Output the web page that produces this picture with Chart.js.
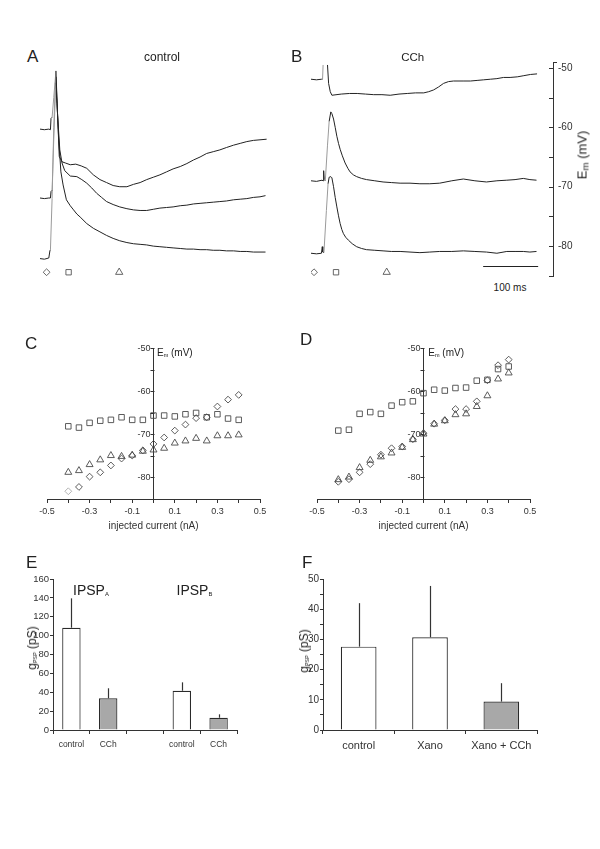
<!DOCTYPE html>
<html><head><meta charset="utf-8">
<script src="https://cdn.jsdelivr.net/npm/chart.js@4/dist/chart.umd.min.js"></script>
<style>
body{margin:0;background:#fff;width:600px;height:849px;position:relative;overflow:hidden;font-family:'Liberation Sans',Arial,sans-serif;color:#222}
canvas{position:absolute}
.t{position:absolute;white-space:nowrap;line-height:1}
.c{transform:translateX(-50%)}
.r{transform:translate(-50%,-50%) rotate(-90deg)}
.sub{font-size:0.55em;position:relative;top:0.2em}
</style></head><body>
<canvas id="cA" style="left:40px;top:62px" width="227" height="215"></canvas>
<canvas id="cB" style="left:311px;top:62px" width="289" height="215"></canvas>
<canvas id="cC" style="left:32px;top:338px" width="243" height="194"></canvas>
<canvas id="cD" style="left:302px;top:338px" width="243" height="194"></canvas>
<canvas id="cE" style="left:20px;top:571px" width="222" height="184"></canvas>
<canvas id="cF" style="left:290px;top:571px" width="257" height="184"></canvas>

<div class="t" style="left:27px;top:47.5px;font-size:17px">A</div>
<div class="t c" style="left:162px;top:50.8px;font-size:12px">control</div>
<div class="t" style="left:291px;top:47.5px;font-size:17px">B</div>
<div class="t c" style="left:412.7px;top:51.6px;font-size:11.5px">CCh</div>
<div class="t r" style="left:582px;top:155px;font-size:13px">E<span class="sub" style="font-size:0.75em">m</span> (mV)</div>
<div class="t c" style="left:510px;top:282.5px;font-size:10px">100 ms</div>

<div class="t" style="left:25px;top:334.5px;font-size:17px">C</div>
<div class="t" style="left:157px;top:348.2px;font-size:10px">E<span class="sub">m</span> (mV)</div>
<div class="t" style="left:300px;top:330.5px;font-size:17px">D</div>
<div class="t" style="left:428.3px;top:348.2px;font-size:10px">E<span class="sub">m</span> (mV)</div>

<div class="t" style="left:26px;top:553.5px;font-size:17px">E</div>
<div class="t" style="left:73px;top:583px;font-size:14px">IPSP<span class="sub" style="font-size:0.42em">A</span></div>
<div class="t" style="left:176.5px;top:583px;font-size:14px">IPSP<span class="sub" style="font-size:0.42em">B</span></div>
<div class="t r" style="left:32px;top:648px;font-size:12px">g<span class="sub" style="font-size:0.45em">PSP</span> (pS)</div>
<div class="t" style="left:302px;top:553.5px;font-size:17px">F</div>
<div class="t r" style="left:304px;top:651px;font-size:12px">g<span class="sub" style="font-size:0.45em">PSP</span> (pS)</div>

<script>
// ---------- Panel A (control) traces: time (ms) / membrane potential (mV)
const tA1 = [0, 8, 16, 19, 20, 22, 25, 29, 32, 35, 40, 46, 55, 65, 75, 85, 97, 109, 121, 133, 145, 158, 170, 182, 194, 206, 218, 230, 242, 255, 267, 279, 291, 303, 315, 327, 339, 352, 364, 376, 388, 400, 412];
const vA1 = [-60.3, -60.4, -60.3, -60.4, -58.5, -58.3, -55, -50.5, -58, -64.9, -65.8, -66.0, -66.3, -66.2, -66.5, -66.9, -68.0, -68.8, -69.3, -69.8, -70.0, -70.0, -69.6, -69.3, -68.8, -68.4, -68.0, -67.5, -67.0, -66.6, -66.1, -65.5, -65.0, -64.4, -64.1, -63.8, -63.4, -63.0, -62.7, -62.4, -62.2, -62.1, -62.0];
const tA2 = [0, 8, 16, 19, 20, 22, 25, 29, 32, 36, 40, 45, 55, 67, 76, 85, 94, 103, 112, 121, 133, 145, 158, 170, 182, 194, 206, 218, 230, 242, 255, 267, 279, 291, 303, 315, 327, 339, 352, 364, 376, 388, 400, 410];
const vA2 = [-71.9, -72.0, -71.9, -71.9, -70.8, -70.6, -62, -51.5, -58, -63.8, -66.0, -67.3, -68.2, -68.3, -68.8, -69.4, -70.2, -71.1, -71.8, -72.5, -73.0, -73.4, -73.7, -73.9, -74.0, -74.0, -73.8, -73.6, -73.5, -73.4, -73.2, -73.1, -72.9, -72.8, -72.7, -72.6, -72.5, -72.4, -72.2, -72.1, -72.0, -71.8, -71.7, -71.5];
const tA3 = [0, 8, 16, 18, 19, 22, 25, 28, 31, 34, 38, 42, 48, 55, 61, 67, 73, 85, 97, 109, 121, 133, 145, 158, 170, 182, 194, 206, 218, 230, 242, 255, 267, 279, 291, 303, 315, 327, 339, 352, 364, 376, 388, 400, 410];
const vA3 = [-82.1, -82.2, -82.0, -80.8, -80.6, -72, -60, -52.5, -56, -62, -67.5, -69.7, -72.2, -73.2, -73.9, -74.6, -75.1, -76.2, -77.0, -77.6, -78.2, -78.7, -79.1, -79.4, -79.6, -79.7, -79.8, -80.0, -80.1, -80.2, -80.3, -80.4, -80.5, -80.5, -80.6, -80.6, -80.7, -80.7, -80.8, -80.8, -80.9, -80.9, -81.0, -81.0, -81.0];
// ---------- Panel B (CCh) traces
const tB1 = [0, 10, 19, 21, 22, 26, 30, 32, 35, 38, 55, 70, 84, 99, 114, 129, 144, 160, 175, 190, 205, 214, 223, 232, 241, 250, 259, 278, 290, 302, 314, 326, 338, 350, 362, 375, 387, 399, 411];
const vB1 = [-51.9, -52.0, -51.9, -51.9, -49.5, null, -49.5, -52.6, -54.0, -54.6, -54.4, -54.3, -54.3, -54.4, -54.5, -54.5, -54.6, -54.4, -54.3, -54.2, -54.2, -54.0, -53.7, -53.2, -52.6, -52.3, -52.2, -52.2, -52.2, -52.1, -52.0, -51.9, -51.8, -51.6, -51.6, -51.5, -51.3, -51.1, -51.0];
const tB2 = [0, 10, 20, 22, 23, 24, 26, 30, 33, 36, 38, 41, 44, 47, 50, 53, 57, 62, 67, 71, 77, 83, 92, 101, 116, 131, 146, 162, 180, 198, 216, 234, 256, 277, 298, 319, 338, 356, 371, 386, 398, 410];
const vB2 = [-69.0, -69.1, -68.9, -69.0, -67.3, -68.8, -69.0, -63, -59, -57.4, -57.7, -58.6, -60.0, -61.5, -62.7, -63.7, -64.8, -66.0, -66.9, -67.5, -68.0, -68.3, -68.6, -68.8, -69.0, -69.2, -69.3, -69.4, -69.4, -69.5, -69.5, -69.4, -69.0, -68.7, -69.0, -69.2, -69.0, -68.9, -68.8, -68.6, -68.8, -68.9];
const tB3 = [0, 10, 19, 20.5, 21.5, 23.5, 28, 31, 33, 36, 38, 41, 44, 47, 50, 53, 56, 59, 63, 68, 75, 83, 92, 101, 116, 131, 146, 162, 180, 198, 216, 234, 256, 277, 298, 319, 338, 356, 371, 386, 398, 410];
const vB3 = [-81.2, -81.3, -81.2, -80.1, -81.0, -81.1, -74, -69.5, -68.4, -68.3, -68.5, -70.0, -71.8, -73.4, -74.9, -76.2, -77.2, -77.9, -78.5, -79.0, -79.6, -80.1, -80.4, -80.6, -80.7, -80.8, -80.9, -80.9, -81.0, -81.1, -81.0, -80.9, -80.9, -80.8, -80.9, -81.0, -81.2, -80.9, -80.9, -80.9, -81.0, -80.9];
// time markers (diamond, square, triangle)
const markStyles = ['rectRot', 'rect', 'triangle'];
const markTA = [12, 52, 144];
const markTB = [5.5, 45.5, 137.6];
const markV = [-84.4, -84.4, -84.4];
const scaleBarMs = [313, 413];
const emTicks = [-85, -82.5, -80, -77.5, -75, -72.5, -70, -67.5, -65, -62.5, -60, -57.5, -55, -52.5, -50];
const emLabels = [-50, -60, -70, -80];

// ---------- Panels C/D: I-V relations
const current = [-0.4, -0.35, -0.3, -0.25, -0.2, -0.15, -0.1, -0.05, 0, 0.05, 0.1, 0.15, 0.2, 0.25, 0.3, 0.35, 0.4];
const cSquare = [-68.2, -68.5, -67.4, -66.9, -66.7, -66.1, -66.7, -66.7, -65.7, -65.7, -65.9, -65.4, -65.1, -66.1, -65.4, -66.4, -66.7];
const cDiamond = [-83.3, -82.3, -79.9, -78.9, -77.3, -75.7, -75.0, -73.8, -72.3, -70.8, -69.2, -67.8, -66.3, -66.1, -63.6, -62.0, -60.9];
const cTriangle = [-78.9, -78.5, -77.1, -76.0, -75.0, -75.2, -74.9, -74.0, -73.7, -73.3, -72.1, -71.6, -71.0, -71.6, -70.4, -70.4, -70.2];
const dSquare = [-69.2, -69.0, -65.3, -64.9, -65.3, -63.4, -62.6, -62.4, -60.5, -59.7, -59.9, -59.3, -59.2, -57.6, -57.4, -54.9, -54.3];
const dDiamond = [-81.1, -80.5, -78.9, -77.0, -74.8, -73.3, -72.9, -71.2, -69.8, -67.6, -66.8, -64.2, -64.2, -62.4, -57.5, -54.0, -52.7];
const dTriangle = [-80.6, -80.0, -77.8, -76.1, -75.3, -74.4, -73.1, -71.3, -70.0, -67.7, -66.9, -65.5, -65.3, -63.6, -61.1, -57.2, -55.8];
const ivXTicks = [-0.5, -0.4, -0.3, -0.2, -0.1, 0, 0.1, 0.2, 0.3, 0.4, 0.5];
const ivXLabels = [-0.5, -0.3, -0.1, 0.1, 0.3, 0.5];
const ivYTicks = [-80, -75, -70, -65, -60, -55, -50];
const ivYLabels = [-80, -70, -60, -50];

// ---------- Panel E / F: conductances
const eCats = ['control', 'CCh', '', 'control', 'CCh'];
const eMeans = [108.4, 33.6, null, 41.6, 13.0];
const eErrs = [31.1, 10.6, null, 8.9, 3.6];
const eYTicks = [0, 20, 40, 60, 80, 100, 120, 140, 160];
const fCats = ['control', 'Xano', 'Xano + CCh'];
const fMeans = [27.6, 30.7, 9.4];
const fErrs = [14.4, 17.0, 6.1];
const fYTicks = [0, 5, 10, 15, 20, 25, 30, 35, 40, 45, 50];
const fYLabels = [0, 10, 20, 30, 40, 50];

// ================= rendering =================
const FONT = "'Liberation Sans', Arial, sans-serif";
Chart.defaults.font.family = FONT;
Chart.defaults.color = '#333';
Chart.defaults.animation = false;
Chart.defaults.devicePixelRatio = 1;
Chart.defaults.layout.autoPadding = false;
Chart.defaults.plugins.legend.display = false;
Chart.defaults.plugins.tooltip.enabled = false;

const INK = '#222', AX = '#333';
const pts = (t, v) => t.map((x, i) => ({x: x, y: v[i]}));
// fast rising phases render as thin grey strokes, as in the recording
const steep = ctx => {
  const dx = Math.abs(ctx.p1.x - ctx.p0.x), dy = ctx.p0.y - ctx.p1.y;
  return (dy > 5 * dx && dy > 12) ? '#9a9a9a' : INK;
};
function traceDS(t, v) {
  return {type: 'line', data: pts(t, v), borderColor: INK, borderWidth: 1, pointRadius: 0,
          spanGaps: false, tension: 0, clip: false, segment: {borderColor: steep}};
}
function markerDS(t) {
  return {type: 'scatter', data: pts(t, markV), pointStyle: markStyles, pointRadius: [3.4, 3.8, 4.2],
          borderColor: '#555', backgroundColor: 'rgba(0,0,0,0)', borderWidth: 0.9, showLine: false, clip: false};
}

// Panel A
new Chart(document.getElementById('cA'), {
  type: 'line',
  data: {datasets: [traceDS(tA1, vA1), traceDS(tA2, vA2), traceDS(tA3, vA3), markerDS(markTA)]},
  options: {responsive: false, layout: {padding: 0, autoPadding: false},
    scales: {x: {type: 'linear', min: 0, max: 412.7, display: false},
             y: {min: -85.2, max: -49, display: false}}}
});

// Panel B with right voltage axis
const inwardTicks = {
  id: 'inwardTicks',
  afterDraw(chart) {
    const s = chart.scales.y, ctx = chart.ctx;
    ctx.save(); ctx.strokeStyle = AX; ctx.lineWidth = 1;
    s.ticks.forEach(tk => {
      const y = Math.round(s.getPixelForValue(tk.value)) + 0.5;
      ctx.beginPath(); ctx.moveTo(s.left - 4, y); ctx.lineTo(s.left, y); ctx.stroke();
    });
    const top = Math.round(s.top) + 0.5;
    ctx.beginPath(); ctx.moveTo(s.left, top); ctx.lineTo(s.left + 4, top); ctx.stroke();
    // 100 ms scale bar
    const xs = chart.scales.x;
    const yb = Math.round(s.getPixelForValue(-83.3)) + 0.5;
    ctx.strokeStyle = INK; ctx.lineWidth = 1.2;
    ctx.beginPath(); ctx.moveTo(xs.getPixelForValue(scaleBarMs[0]), yb); ctx.lineTo(xs.getPixelForValue(scaleBarMs[1]), yb); ctx.stroke();
    ctx.restore();
  }
};
new Chart(document.getElementById('cB'), {
  type: 'line',
  data: {datasets: [traceDS(tB1, vB1), traceDS(tB2, vB2), traceDS(tB3, vB3), markerDS(markTB)]},
  options: {responsive: false, layout: {padding: 0, autoPadding: false},
    scales: {x: {type: 'linear', min: 0, max: 440, display: false},
             y: {position: 'right', min: -85.2, max: -49,
                 afterFit: s => { s.width = 47; s.paddingTop = 0; s.paddingBottom = 0; },
                 afterBuildTicks: s => { s.ticks = emTicks.map(v => ({value: v})); },
                 grid: {display: false, drawTicks: false, tickLength: 0}, border: {display: true, color: AX, width: 1},
                 ticks: {padding: 5, font: {size: 10}, color: AX,
                         callback: v => emLabels.includes(v) ? String(v) : ''}}}},
  plugins: [inwardTicks]
});

// Panels C / D: y axis crossing at 0 nA, ticks and labels drawn from the y scale
const centerYAxis = {
  id: 'centerYAxis',
  afterDraw(chart) {
    const ys = chart.scales.y, xs = chart.scales.x, ctx = chart.ctx;
    const x0 = Math.round(xs.getPixelForValue(0)) + 0.5;
    ctx.save(); ctx.strokeStyle = AX; ctx.fillStyle = AX; ctx.lineWidth = 1;
    ctx.font = '9px ' + FONT; ctx.textAlign = 'right'; ctx.textBaseline = 'middle';
    ivYTicks.forEach(v => {
      const y = Math.round(ys.getPixelForValue(v)) + 0.5;
      ctx.beginPath(); ctx.moveTo(x0 - 4, y); ctx.lineTo(x0, y); ctx.stroke();
      if (ivYLabels.includes(v)) ctx.fillText(String(v), x0 - 4, y);
    });
    ctx.restore();
  }
};
function ivChart(id, sq, di, tr) {
  const sc = (data, style, r) => ({type: 'scatter', data: pts(current, data), pointStyle: style, pointRadius: r,
    borderColor: '#4a4a4a', backgroundColor: 'rgba(0,0,0,0)', borderWidth: 0.9, clip: false});
  return new Chart(document.getElementById(id), {
    type: 'scatter',
    data: {datasets: [sc(sq, 'rect', 3.9), sc(di, 'rectRot', 3.4), sc(tr, 'triangle', 4.0)]},
    options: {responsive: false, layout: {padding: {left: 15, right: 15, top: 10, bottom: 0}, autoPadding: false},
      scales: {
        x: {type: 'linear', min: -0.5, max: 0.5, position: 'bottom',
            afterFit: s => { s.height = 33; },
            afterBuildTicks: s => { s.ticks = ivXTicks.map(v => ({value: v})); },
            grid: {drawOnChartArea: false, tickLength: 4, color: AX},
            border: {color: AX, width: 1},
            ticks: {padding: 3, font: {size: 9}, color: AX, maxRotation: 0, autoSkip: false,
                    callback: v => ivXLabels.includes(+(+v).toFixed(1)) ? (+v).toFixed(1) : ''},
            title: {display: true, text: 'injected current (nA)', font: {size: 10}, color: AX, padding: 0}},
        y: {type: 'linear', min: -85.1, max: -50, position: {x: 0},
            grid: {display: false}, ticks: {display: false},
            border: {display: true, color: AX, width: 1}}}},
    plugins: [centerYAxis]
  });
}
const cChart = ivChart('cC', cSquare, cDiamond, cTriangle);
cChart.data.datasets[1].pointBorderColor = current.map((_, i) => i === 0 ? '#aaa' : '#4a4a4a');
cChart.update();
ivChart('cD', dSquare, dDiamond, dTriangle);

// Panels E / F
const errBars = {
  id: 'errBars',
  afterDatasetsDraw(chart, args, opts) {
    const ds = chart.data.datasets[0], meta = chart.getDatasetMeta(0), y = chart.scales.y, ctx = chart.ctx;
    ctx.save(); ctx.strokeStyle = AX; ctx.lineWidth = 1.2;
    meta.data.forEach((bar, i) => {
      const v = ds.data[i], e = opts.errors[i];
      if (v == null || e == null) return;
      const x = Math.round(bar.x) + 0.5;
      ctx.beginPath(); ctx.moveTo(x, bar.y); ctx.lineTo(x, y.getPixelForValue(v + e)); ctx.stroke();
    });
    ctx.restore();
  }
};
function barChart(id, cats, means, errs, fills, yMax, yTicks, yLabels, xFont, xPad, yFont) {
  return new Chart(document.getElementById(id), {
    type: 'bar',
    data: {labels: cats, datasets: [{data: means, backgroundColor: fills, borderColor: '#2a2a2a', borderWidth: 1.2,
           borderSkipped: 'start', barPercentage: 0.5, categoryPercentage: 1}]},
    options: {responsive: false, layout: {padding: {top: 8, right: id === 'cE' ? 5 : 10, left: 0, bottom: 0}, autoPadding: false},
      plugins: {errBars: {errors: errs}},
      scales: {
        x: {afterFit: s => { s.height = 25; },
            grid: {offset: true, drawOnChartArea: false, tickLength: 4, color: AX},
            border: {color: AX, width: 1},
            ticks: {padding: xPad, font: {size: xFont}, color: AX, maxRotation: 0, autoSkip: false}},
        y: {min: 0, max: yMax,
            afterFit: s => { s.width = 33; },
            afterBuildTicks: s => { s.ticks = yTicks.map(v => ({value: v})); },
            grid: {drawOnChartArea: false, tickLength: 3, color: AX},
            border: {color: AX, width: 1},
            ticks: {padding: 1, font: {size: yFont}, color: AX, autoSkip: false,
                    callback: v => yLabels.includes(v) ? String(v) : ''}}}},
    plugins: [errBars]
  });
}
const WHITE = '#ffffff', GREY = '#a8a8a8';
barChart('cE', eCats, eMeans, eErrs, [WHITE, GREY, WHITE, WHITE, GREY], 160, eYTicks, eYTicks, 8.5, 6, 9.5);
barChart('cF', fCats, fMeans, fErrs, [WHITE, WHITE, GREY], 50, fYTicks, fYLabels, 11, 5, 10);
</script>
</body></html>
